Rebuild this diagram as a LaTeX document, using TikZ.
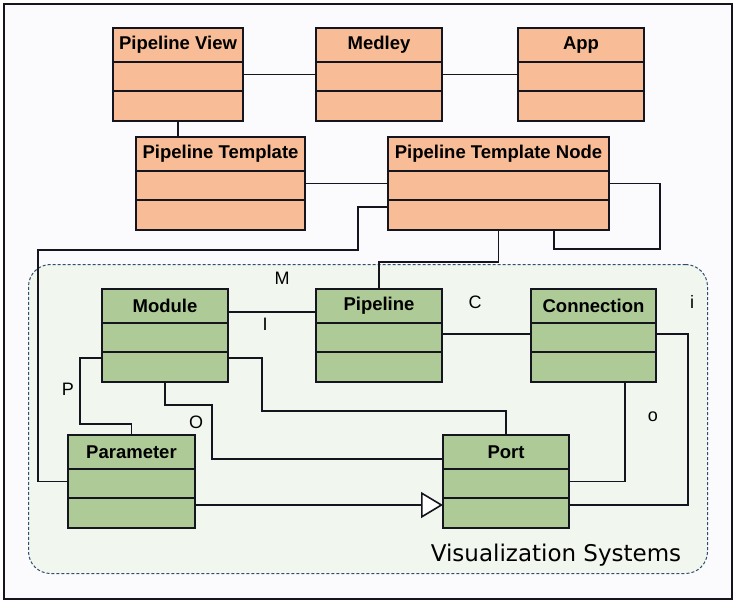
\documentclass[tikz,border=0pt]{standalone}
\usepackage{fontspec}
\setmainfont{Liberation Sans}
\newfontfamily\visfont{DejaVu Sans}
\usetikzlibrary{arrows.meta,calc}
\definecolor{salmon}{HTML}{F8BC96}
\definecolor{leaf}{HTML}{AECB97}
\definecolor{paper}{HTML}{FBFBFE}
\definecolor{regionfill}{HTML}{F1F6EF}
\definecolor{regionline}{HTML}{2E4E70}
\definecolor{ink}{HTML}{15151F}
\tikzset{
  cls/.style={draw=ink, line width=1.9pt, rectangle, minimum height=93pt, inner sep=0pt, outer sep=0pt},
  ttl/.style={font=\fontsize{18.5}{21}\selectfont\bfseries, text=black, inner sep=0pt},
  lbl/.style={font=\fontsize{18}{21}\selectfont, text=black, inner sep=0pt},
  wire/.style={draw=ink, line width=1.3pt},
}
\newcommand{\classbox}[7]{%
  \node[cls, fill=#6, minimum width={#4-#2}, anchor=north west] (#1) at (#2,#3) {};
  \node[ttl] (#1-t) at ([yshift=-17pt]#1.north) {#5};
  \draw[ink, line width=1.9pt] ([yshift=-34pt]#1.north west) -- ([yshift=-34pt]#1.north east);
  \draw[ink, line width=1.9pt] ([yshift=-63pt]#1.north west) -- ([yshift=-63pt]#1.north east);
}
\begin{document}
\begin{tikzpicture}[x=1pt,y=-1pt]
\useasboundingbox (0,0) rectangle (737,603);
\fill[white] (0,0) rectangle (737,603);
\node[draw=ink, fill=paper, line width=1.7pt, rectangle, minimum width=728pt, minimum height=595pt, anchor=north west, inner sep=0pt] (frame) at (3,3) {};
% region
\node[draw=regionline, fill=regionfill, dash pattern=on 3pt off 2pt, line width=1pt, rounded corners=22pt, rectangle, minimum width=679pt, minimum height=309pt, anchor=north west, inner sep=0pt] (vis) at (28,264) {};
\node[font=\visfont\fontsize{23}{26}\selectfont, inner sep=0pt] (vislbl) at (556,555) {Visualization Systems};
% top classes
\classbox{pv}{113}{28}{243}{Pipeline View}{salmon}{}
\classbox{med}{316}{28}{442}{Medley}{salmon}{}
\classbox{app}{518}{28}{644}{App}{salmon}{}
\classbox{pt}{136}{137}{305}{Pipeline Template}{salmon}{}
\classbox{ptn}{388}{137}{609}{Pipeline Template Node}{salmon}{}
% green classes
\classbox{mod}{102}{289}{228}{Module}{leaf}{}
\classbox{pip}{316}{289}{442}{Pipeline}{leaf}{}
\classbox{con}{531}{289}{656}{Connection}{leaf}{}
\classbox{par}{68}{435}{195}{Parameter}{leaf}{}
\classbox{port}{443}{435}{569}{Port}{leaf}{}
% connectors top
\draw[wire] (pv.east) -- (med.west);
\draw[wire] (med.east) -- (app.west);
\draw[wire] (pv.south) -- (pv.south |- pt.north);
\draw[wire] (pt.east) -- (ptn.west);
\draw[wire] (ptn.east) -| (660,249) -| ([xshift=55.5pt]ptn.south);
\draw[wire] ([yshift=-70pt]ptn.north west) -| (358,250) -| (38,481.5) -- (par.west);
\draw[wire] (ptn.south) -- ++(0,32) -| (pip.north);
% connectors inside
\draw[wire] ([yshift=-23pt]mod.north east) -- ([yshift=-23pt]pip.north west);
\draw[wire] ([yshift=-69pt]mod.north east) -| (262,411) -| (port.north);
\draw[wire] (mod.south) |- (212,405) |- ([yshift=-24pt]port.north west);
\draw[wire] ([yshift=-69pt]mod.north west) -| (80,424) -| (par.north);
\draw[wire] ([yshift=-45pt]pip.north east) -- ([yshift=-45pt]con.north west);
\draw[wire] ([xshift=31.5pt]con.south) |- (port.east);
\draw[wire] ([yshift=-45pt]con.north east) -| (688,505) -- ([yshift=-70pt]port.north east);
\draw[wire, -{Triangle[length=22pt,width=26pt,fill=white,line width=1.6pt]}] ([yshift=-70pt]par.north east) -- ([yshift=-70pt]port.north west);
% labels
\node[lbl] (lM) at (282,278) {M};
\node[lbl] (lI) at (265,324) {I};
\node[lbl] (lC) at (475,302) {C};
\node[lbl] (li) at (692,302) {i};
\node[lbl] (lo) at (653,417) {o};
\node[lbl] (lP) at (68,389) {P};
\node[lbl] (lO) at (196,422) {O};
\end{tikzpicture}
\end{document}
